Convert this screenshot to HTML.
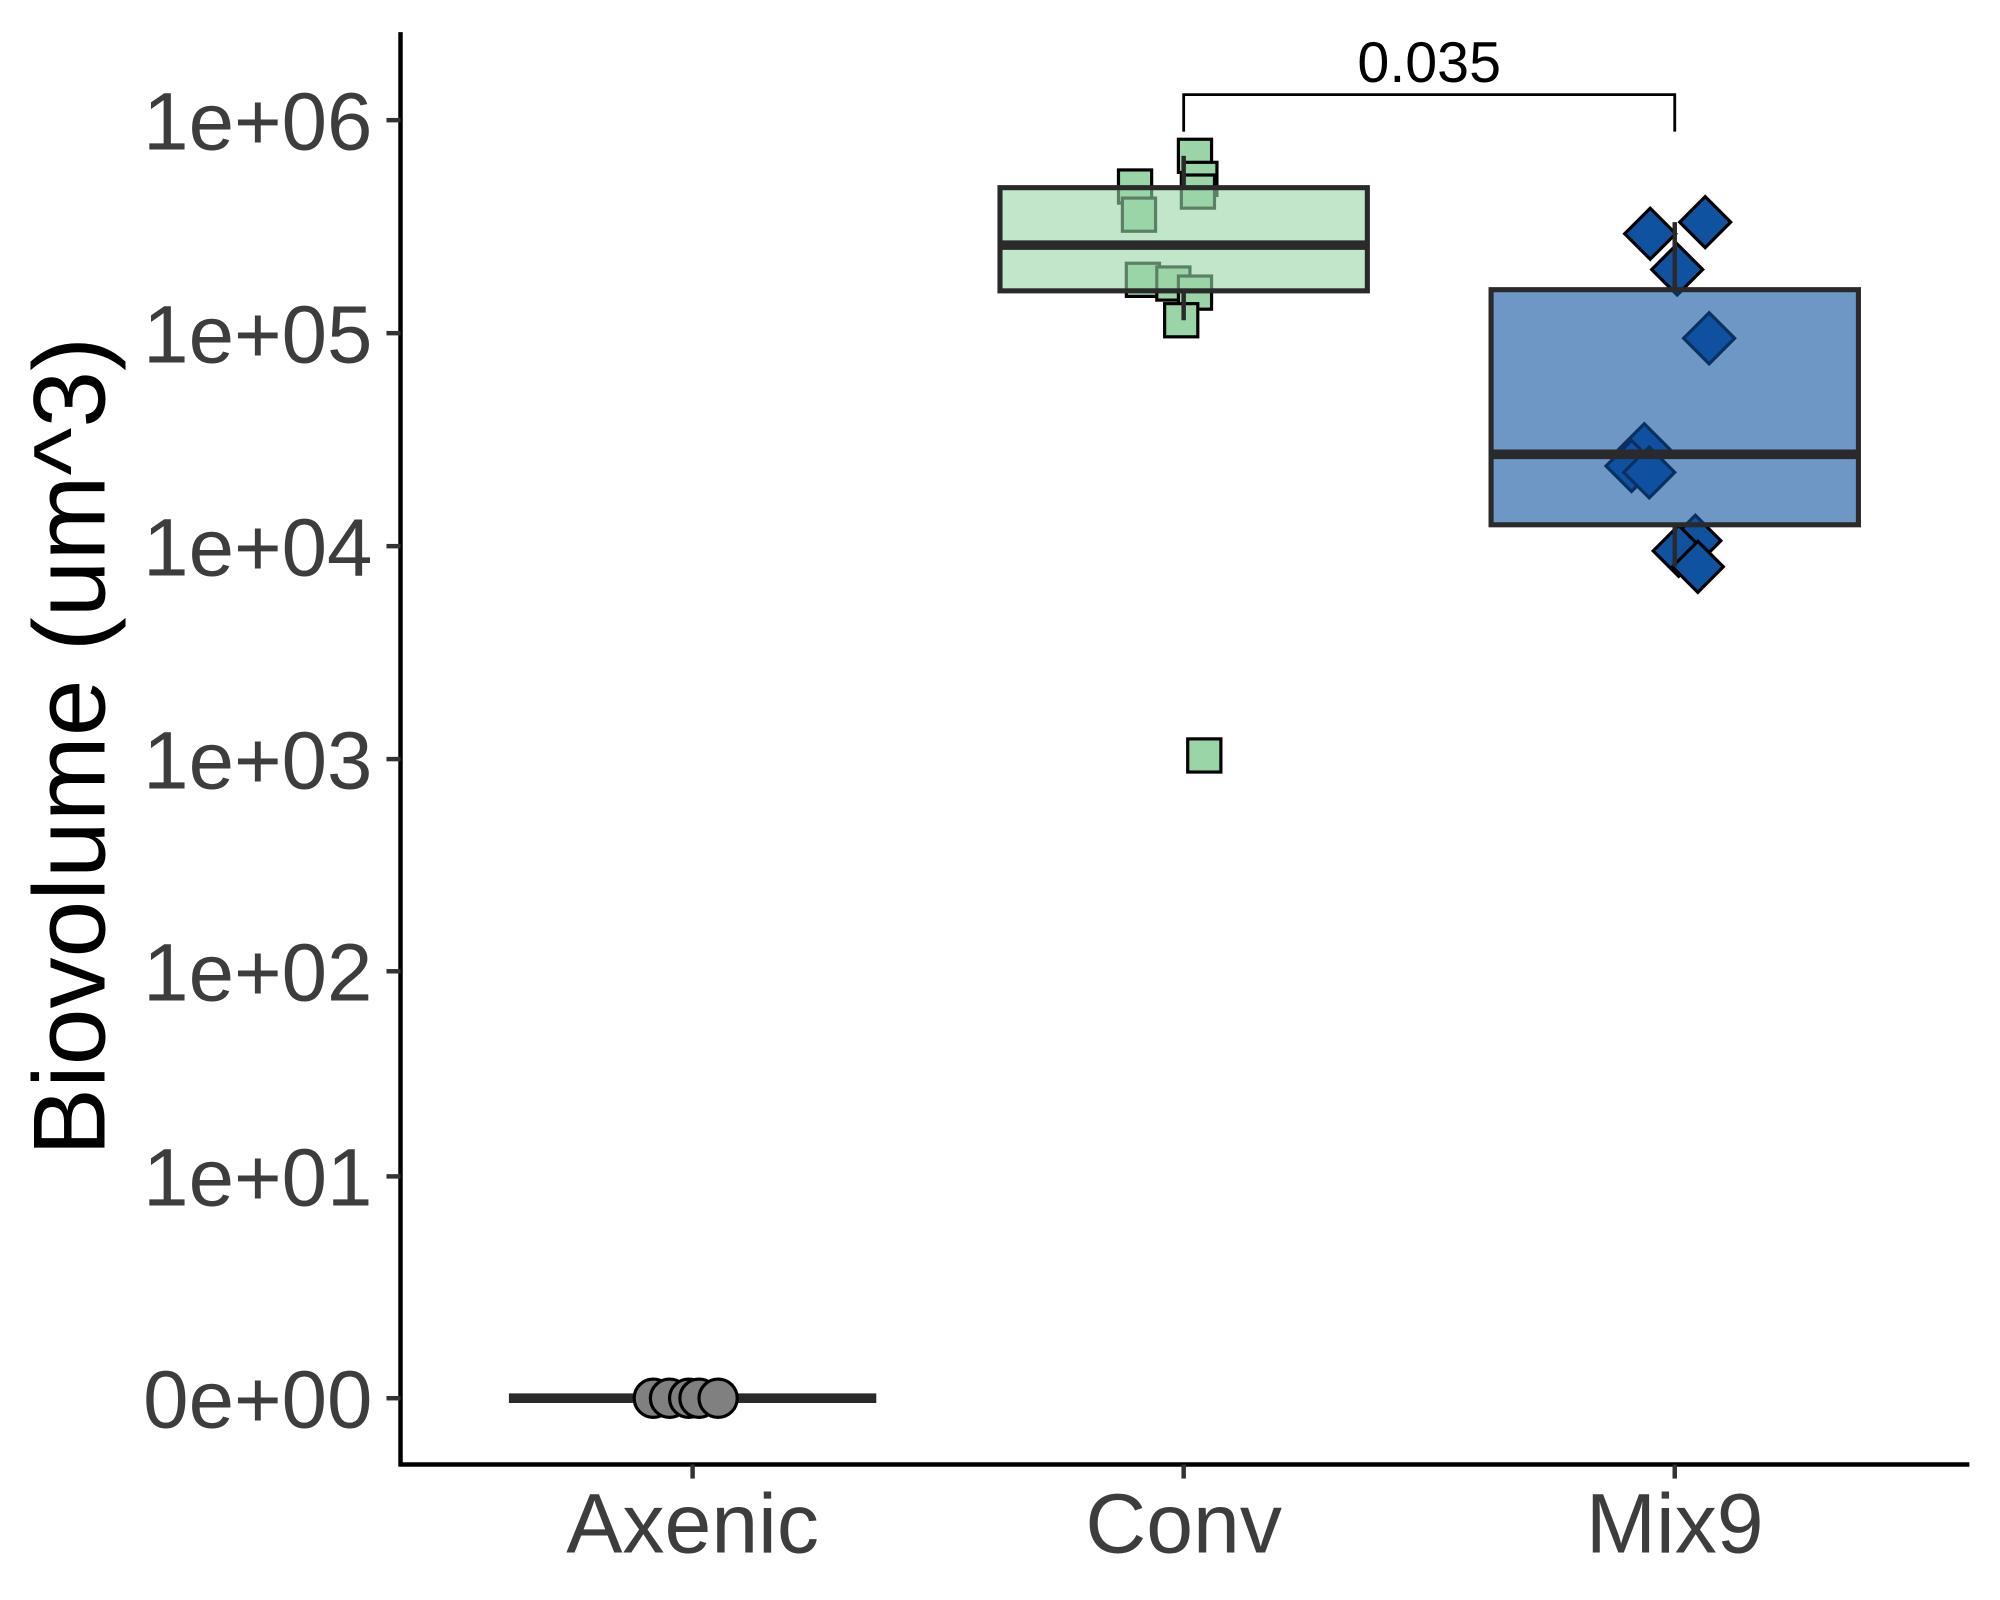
<!DOCTYPE html>
<html><head><meta charset="utf-8"><style>
html,body{margin:0;padding:0;background:#fff}
svg{display:block}
text{font-family:"Liberation Sans",sans-serif}
</style></head><body>
<svg id="chart" width="2000" height="1600" viewBox="0 0 1568 1254" xmlns="http://www.w3.org/2000/svg">
</svg>
<script>
const categories = ["Axenic","Conv","Mix9"];
const yTickValues = [0,10,100,1000,10000,100000,1000000];
const yTickLabels = ["0e+00","1e+01","1e+02","1e+03","1e+04","1e+05","1e+06"];
const axenicValues = [0,0,0,0,0];
const convValues = [680000,488000,530000,462000,360000,178000,171000,155000,115000,1040];
const mix9Values = [293000,332000,199000,94600,28500,23800,22200,10600,9500,8000];
// box stats: [lowerWhisker, q1, median, q3, upperWhisker]
const axenicBox = [0,0,0,0,0];
const convBox = [115000,158000,259000,482000,680000];
const mix9Box = [8000,12600,27000,160000,332000];
const pValueLabel = "0.035";
// horizontal jitter (in category units) for points
const axenicJitter = [-0.08,-0.047,-0.008,0.013,0.052];
const convJitter = [0.023,-0.099,0.034,0.029,-0.091,-0.083,-0.021,0.023,-0.005,0.042];
const mix9Jitter = [-0.05,0.062,0.005,0.07,-0.062,-0.088,-0.052,0.042,0.008,0.047];

const NS="http://www.w3.org/2000/svg";
const svg=document.getElementById('chart');
function y(v){return 1096-167*Math.log10(v+1);}
function x(i){return 543+i*385;}
function mk(tag,attrs,parent){const e=document.createElementNS(NS,tag);for(const k in attrs)e.setAttribute(k,attrs[k]);(parent||svg).appendChild(e);return e;}

let ax=mk('line',{x1:314,y1:25,x2:314,y2:1149.5,stroke:'#000','stroke-width':3.5});


let bx=mk('line',{x1:312.5,y1:1148,x2:1544,y2:1148,stroke:'#000','stroke-width':3.5});



yTickValues.forEach((v,i)=>{
  const t=mk('line',{x1:303,x2:314,y1:y(v),y2:y(v),stroke:'#333','stroke-width':3.5});
  
  
  const l=mk('text',{x:292,y:y(v)+23,'text-anchor':'end','font-size':64,fill:'#3d3d3d'});
  l.textContent=yTickLabels[i];
  
  
});
categories.forEach((c,i)=>{
  const t=mk('line',{x1:x(i),x2:x(i),y1:1148,y2:1159,stroke:'#333','stroke-width':3.5});
  
  
  const l=mk('text',{x:x(i),y:1217,'text-anchor':'middle','font-size':66,fill:'#3d3d3d'});
  l.textContent=c;
  
  
});
const yt=mk('text',{x:0,y:0,'text-anchor':'middle','font-size':80,fill:'#000',transform:'translate(82,585) rotate(-90)'});
yt.textContent='Biovolume (um^3)';



function points(vals,jit,i,shape,fill){
  vals.forEach((v,k)=>{
    const cx=x(i+jit[k]), cy=y(v);
    let p;
    if(shape==='circle') p=mk('circle',{cx:cx,cy:cy,r:15,fill:fill,stroke:'#000','stroke-width':2.5});
    else if(shape==='square') p=mk('rect',{x:cx-13,y:cy-13,width:26,height:26,fill:fill,stroke:'#000','stroke-width':2.5});
    else p=mk('polygon',{points:`${cx},${cy-20} ${cx+20},${cy} ${cx},${cy+20} ${cx-20},${cy}`,fill:fill,stroke:'#000','stroke-width':2.5});
    
    
  });
}
function box(st,i,fill){
  const cx=x(i),hw=144;
  const w1=mk('line',{x1:cx,x2:cx,y1:y(st[0]),y2:y(st[1]),stroke:'#2a2a2a','stroke-width':3.5});
  
  
  const w2=mk('line',{x1:cx,x2:cx,y1:y(st[3]),y2:y(st[4]),stroke:'#2a2a2a','stroke-width':3.5});
  
  
  const r=mk('rect',{x:cx-hw,y:y(st[3]),width:hw*2,height:Math.max(0,y(st[1])-y(st[3])),fill:fill,'fill-opacity':0.6,stroke:'#2a2a2a','stroke-width':4});
  
  
  const m=mk('line',{x1:cx-hw,x2:cx+hw,y1:y(st[2]),y2:y(st[2]),stroke:'#2a2a2a','stroke-width':7.5});
  
  
}
points(convValues,convJitter,1,'square','#99d5a6');
points(mix9Values,mix9Jitter,2,'diamond','#0f52a0');
box(axenicBox,0,'#808080');
box(convBox,1,'#99d5a6');
box(mix9Box,2,'#0f52a0');
points(axenicValues,axenicJitter,0,'circle','#808080');

const br=mk('polyline',{points:`${x(1)},103 ${x(1)},74 ${x(2)},74 ${x(2)},103`,fill:'none',stroke:'#000','stroke-width':2.2});


const pt=mk('text',{x:(x(1)+x(2))/2,y:64,'text-anchor':'middle','font-size':45,fill:'#000'});
pt.textContent=pValueLabel;


</script>
</body></html>
